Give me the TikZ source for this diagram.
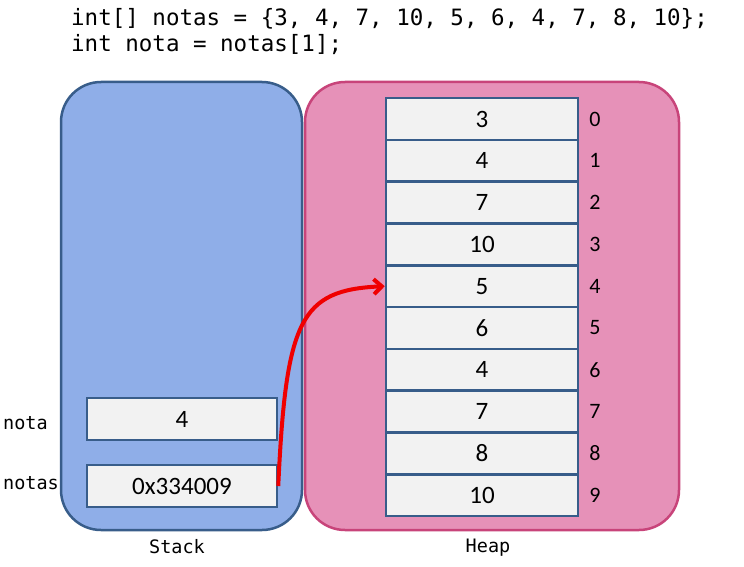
\documentclass[tikz,border=0pt]{standalone}
\usepackage{fontspec}
\setmainfont{Carlito}
\setmonofont{DejaVu Sans Mono}
\usetikzlibrary{arrows.meta}
\definecolor{stackfill}{RGB}{143, 174, 232}
\definecolor{stackline}{RGB}{56, 93, 138}
\definecolor{heapfill}{RGB}{230, 145, 184}
\definecolor{heapline}{RGB}{200, 68, 122}
\definecolor{cellfill}{RGB}{242, 242, 242}
\definecolor{pointer}{RGB}{240, 0, 0}

\begin{document}
\begin{tikzpicture}[x=1pt, y=-1pt,
  area/.style={rounded corners=40pt, line width=2.5pt, inner sep=0pt},
  cell/.style={draw=stackline, fill=cellfill, line width=2.5pt,
    minimum height=41.8pt, inner sep=0pt, font=\fontsize{25}{30}\selectfont},
  idx/.style={font=\fontsize{22}{26}\selectfont, inner sep=0pt},
  mono/.style={font=\ttfamily\fontsize{18.5}{22}\selectfont, inner sep=0pt},
  code/.style={font=\ttfamily\fontsize{22.5}{27}\selectfont, inner sep=0pt, anchor=west},
  ptr/.style={pointer, line width=4pt, -{Straight Barb[length=8pt, width=15pt]}}]

  \useasboundingbox[fill=white] (0, 0) rectangle (744, 567);

  % source lines
  \node[code] (line1) at (71, 19) {int[] notas = \{3, 4, 7, 10, 5, 6, 4, 7, 8, 10\};};
  \node[code] (line2) at (71, 45) {int nota = notas[1];};

  % memory areas
  \node[area, draw=stackline, fill=stackfill, minimum width=241pt, minimum height=448pt]
    (stack) at (181.5, 306) {};
  \node[area, draw=heapline, fill=heapfill, minimum width=374pt, minimum height=448pt]
    (heap) at (492, 306) {};

  % array cells with their indices
  \foreach \v [count=\i from 0] in {3, 4, 7, 10, 5, 6, 4, 7, 8, 10} {
    \node[cell, minimum width=192pt] (h\i) at (482, {119 + \i * 41.8}) {\v};
    \node[idx, anchor=west] (n\i) at ([xshift=10pt] h\i.east) {\i};
  }

  % local variables
  \node[cell, minimum width=190pt, minimum height=42pt] (s0) at (182, 419) {4};
  \node[cell, minimum width=190pt, minimum height=42pt] (s1) at (182, 486) {0x334009};
  \node[mono, anchor=west] (v0) at (3, 423) {nota};
  \node[mono, anchor=west] (v1) at (3, 483) {notas};

  \node[mono] (stacklabel) at (177, 547) {Stack};
  \node[mono] (heaplabel) at (488, 548) {Heap};

  \draw[ptr] (s1.east) .. controls (286, 320) and (300, 290) .. (h4.west);

\end{tikzpicture}
\end{document}
